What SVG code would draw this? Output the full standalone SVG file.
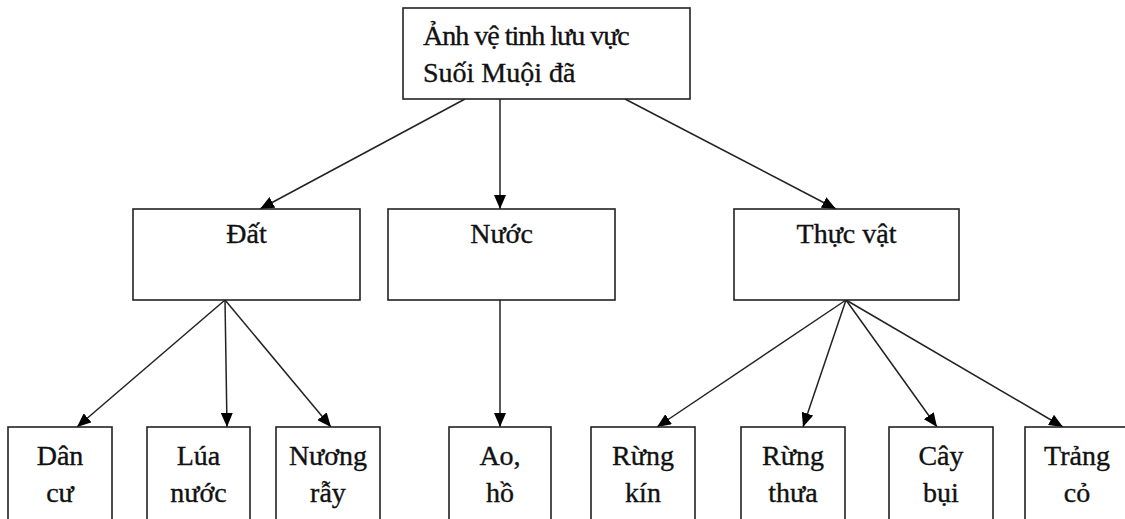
<svg xmlns="http://www.w3.org/2000/svg" width="1125" height="519" viewBox="0 0 1125 519">
<style>
.box{fill:#fff;stroke:#222;stroke-width:1.6}
.t{font-family:"Liberation Serif","Times New Roman",serif;font-size:28px;fill:#111;stroke:#111;stroke-width:0.35}
.c{text-anchor:middle}
.ln{stroke:#222;stroke-width:1.5;fill:none;marker-end:url(#ah)}
</style>
<defs>
<marker id="ah" markerUnits="userSpaceOnUse" markerWidth="14" markerHeight="12" refX="14" refY="6" orient="auto">
<path d="M0,0 L14,6 L0,12 Z" fill="#000"/>
</marker>
</defs>
<rect width="1125" height="519" fill="#fff"/>
<g id="connectors">
<line class="ln" x1="465" y1="99" x2="260" y2="209"/>
<line class="ln" x1="500" y1="99" x2="500" y2="209"/>
<line class="ln" x1="625" y1="99" x2="836" y2="209"/>
<line class="ln" x1="225" y1="300" x2="77" y2="427"/>
<line class="ln" x1="225" y1="300" x2="227" y2="427"/>
<line class="ln" x1="225" y1="300" x2="331" y2="427"/>
<line class="ln" x1="500" y1="300" x2="500" y2="427"/>
<line class="ln" x1="846" y1="300" x2="657" y2="427"/>
<line class="ln" x1="846" y1="300" x2="803" y2="427"/>
<line class="ln" x1="846" y1="300" x2="937" y2="427"/>
<line class="ln" x1="846" y1="300" x2="1063" y2="427"/>
</g>
<g id="root">
<rect class="box" x="403" y="8" width="287" height="91"/>
<text class="t" x="423" y="45" letter-spacing="-1">Ảnh vệ tinh lưu vực</text>
<text class="t" x="423" y="82">Suối Muội đã</text>
</g>
<g id="dat">
<rect class="box" x="133" y="209" width="227" height="91"/>
<text class="t c" x="246.5" y="243">Đất</text>
</g>
<g id="nuoc">
<rect class="box" x="388" y="209" width="227" height="91"/>
<text class="t c" x="501.5" y="243">Nước</text>
</g>
<g id="thucvat">
<rect class="box" x="734" y="209" width="225" height="91"/>
<text class="t c" x="846.5" y="243">Thực vật</text>
</g>
<g id="dancu">
<rect class="box" x="8" y="427" width="104" height="100"/>
<text class="t c" x="60" y="465">Dân</text>
<text class="t c" x="60" y="502">cư</text>
</g>
<g id="luanuoc">
<rect class="box" x="147" y="427" width="103" height="100"/>
<text class="t c" x="198.5" y="465">Lúa</text>
<text class="t c" x="198.5" y="502">nước</text>
</g>
<g id="nuongray">
<rect class="box" x="276" y="427" width="104" height="100"/>
<text class="t c" x="328" y="465">Nương</text>
<text class="t c" x="328" y="502">rẫy</text>
</g>
<g id="aoho">
<rect class="box" x="449" y="427" width="102" height="100"/>
<text class="t c" x="500" y="465">Ao,</text>
<text class="t c" x="500" y="502">hồ</text>
</g>
<g id="rungkin">
<rect class="box" x="591" y="427" width="104" height="100"/>
<text class="t c" x="643" y="465">Rừng</text>
<text class="t c" x="643" y="502">kín</text>
</g>
<g id="rungthua">
<rect class="box" x="741" y="427" width="104" height="100"/>
<text class="t c" x="793" y="465">Rừng</text>
<text class="t c" x="793" y="502">thưa</text>
</g>
<g id="caybui">
<rect class="box" x="889" y="427" width="104" height="100"/>
<text class="t c" x="941" y="465">Cây</text>
<text class="t c" x="941" y="502">bụi</text>
</g>
<g id="trangco">
<rect class="box" x="1025" y="427" width="104" height="100"/>
<text class="t c" x="1077" y="465">Trảng</text>
<text class="t c" x="1077" y="502">cỏ</text>
</g>
</svg>
